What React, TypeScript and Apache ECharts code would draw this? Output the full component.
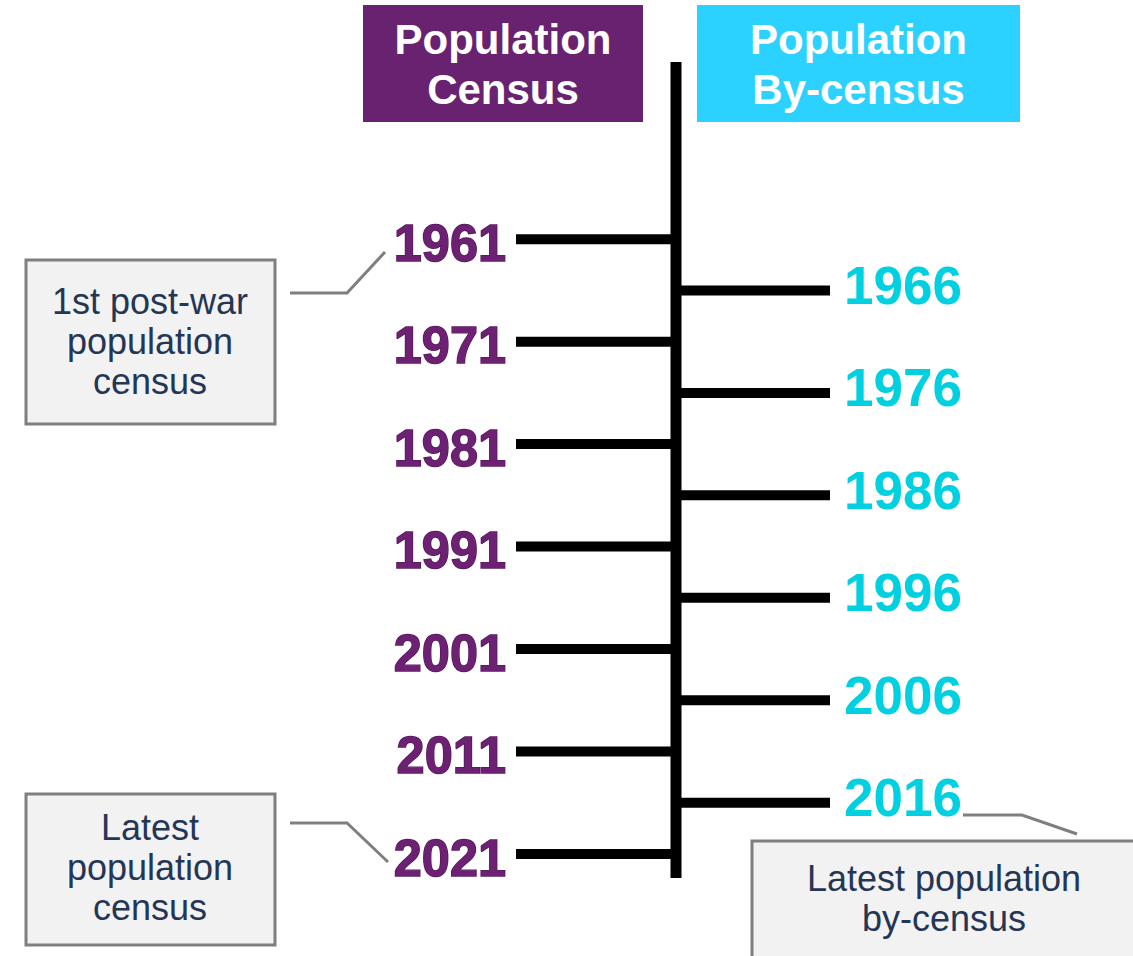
import React, { useEffect, useRef } from "react";
import * as echarts from "echarts";

// Data
const censusYears = [1961, 1971, 1981, 1991, 2001, 2011, 2021];
const byCensusYears = [1966, 1976, 1986, 1996, 2006, 2016];
const headerLeft = "Population\nCensus";
const headerRight = "Population\nBy-census";
const noteFirst = "1st post-war\npopulation\ncensus";
const noteLatest = "Latest\npopulation\ncensus";
const noteLatestBy = "Latest population\nby-census";

const FONT = "'Liberation Sans', Arial, sans-serif";
const PURPLE = "#68226F";
const PURPLE_TEXT = "#6C2173";
const CYAN_BOX = "#2BD2FF";
const CYAN_TEXT = "#00D0E0";
const NOTE_TEXT = "#253655";
const SPINE_X = 676;

export default function App() {
  const ref = useRef<HTMLDivElement>(null);
  useEffect(() => {
    if (!ref.current) return;
    const chart = echarts.init(ref.current, undefined, { renderer: "svg" });

    const censusItem = (params: any, api: any) => {
      const yr = api.value(1);
      const y = api.coord([0, yr])[1];
      const x1 = api.coord([516, yr])[0];
      return {
        type: "group",
        children: [
          {
            type: "line",
            shape: { x1, y1: y, x2: SPINE_X, y2: y },
            style: { stroke: "#000", lineWidth: 10 },
          },
          {
            type: "text",
            x: 506,
            y: y + 4,
            scaleX: 0.97,
            style: {
              text: String(yr),
              align: "right",
              verticalAlign: "middle",
              fontSize: 52,
              fontWeight: "bold",
              fontFamily: FONT,
              fill: PURPLE_TEXT,
              stroke: "#55175B",
              lineWidth: 1.5,
            },
          },
        ],
      };
    };

    const byItem = (params: any, api: any) => {
      const yr = api.value(1);
      const y = api.coord([0, yr])[1];
      const x2 = api.coord([830, yr])[0];
      return {
        type: "group",
        children: [
          {
            type: "line",
            shape: { x1: SPINE_X, y1: y, x2, y2: y },
            style: { stroke: "#000", lineWidth: 10 },
          },
          {
            type: "text",
            x: 844,
            y: y - 5,
            style: {
              text: String(yr),
              align: "left",
              verticalAlign: "middle",
              fontSize: 53,
              fontWeight: "bold",
              fontFamily: FONT,
              fill: CYAN_TEXT,
            },
          },
        ],
      };
    };

    const noteBox = (x: number, y: number, w: number, h: number) => ({
      type: "rect",
      shape: { x, y, width: w, height: h },
      style: { fill: "#F2F2F2", stroke: "#7F7F7F", lineWidth: 3 },
    });
    const noteText = (x: number, y: number, text: string) => ({
      type: "text",
      x,
      y,
      style: {
        text,
        align: "center",
        verticalAlign: "middle",
        fontSize: 36,
        lineHeight: 40,
        fontFamily: FONT,
        fill: NOTE_TEXT,
      },
    });
    const connector = (pts: number[][]) => ({
      type: "polyline",
      shape: { points: pts },
      style: { stroke: "#7F7F7F", lineWidth: 3, fill: null },
    });
    const header = (x: number, w: number, fill: string, text: string) => [
      {
        type: "rect",
        shape: { x, y: 5, width: w, height: 117 },
        style: { fill },
      },
      {
        type: "text",
        x: x + w / 2,
        y: 64,
        style: {
          text,
          align: "center",
          verticalAlign: "middle",
          fontSize: 42,
          lineHeight: 50,
          fontWeight: "bold",
          fontFamily: FONT,
          fill: "#FFFFFF",
        },
      },
    ];

    chart.setOption({
      animation: false,
      backgroundColor: "#FFFFFF",
      grid: { left: 0, right: 0, top: 0, bottom: 0 },
      xAxis: { type: "value", min: 0, max: 1133, show: false },
      yAxis: {
        type: "value",
        inverse: true,
        min: 1937.67,
        max: 2030.94,
        show: false,
      },
      graphic: [
        ...header(363, 280, PURPLE, headerLeft),
        ...header(697, 323, CYAN_BOX, headerRight),
        {
          type: "line",
          shape: { x1: SPINE_X, y1: 62, x2: SPINE_X, y2: 878 },
          style: { stroke: "#000", lineWidth: 11 },
        },
        noteBox(26, 260, 249, 164),
        noteText(150, 341, noteFirst),
        connector([[290, 293], [347, 293], [385, 252]]),
        noteBox(26, 794, 249, 151),
        noteText(150, 867, noteLatest),
        connector([[290, 823], [347, 823], [388, 862]]),
        noteBox(752, 841, 420, 140),
        noteText(944, 898, noteLatestBy),
        connector([[963, 815], [1022, 815], [1077, 834]]),
      ],
      series: [
        {
          type: "custom",
          renderItem: censusItem,
          data: censusYears.map((y) => [0, y]),
          clip: false,
        },
        {
          type: "custom",
          renderItem: byItem,
          data: byCensusYears.map((y) => [0, y]),
          clip: false,
        },
      ],
    });
    return () => chart.dispose();
  }, []);
  return (
    <div
      ref={ref}
      style={{ position: "absolute", left: 0, top: 0, width: 1133, height: 956 }}
    />
  );
}
